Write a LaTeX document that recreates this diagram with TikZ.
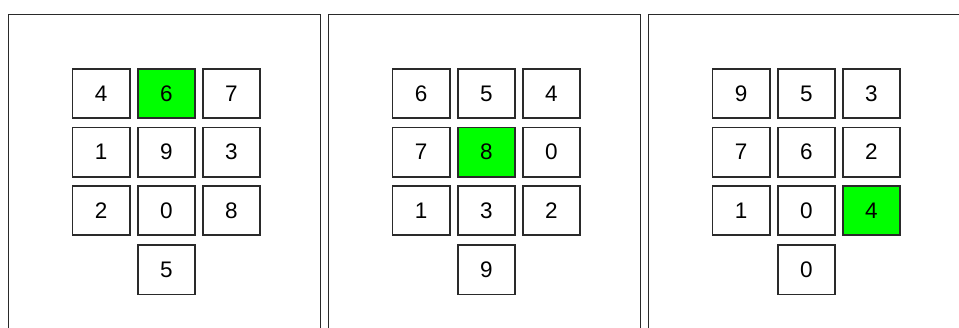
\documentclass[tikz,border=0pt]{standalone}
\usepackage{fontspec}
\setmainfont{Liberation Sans}
\definecolor{lime}{HTML}{00FF00}
\definecolor{edgeclr}{HTML}{2A2A2A}
\tikzset{
  cellbox/.style={draw=edgeclr, line width=1.6pt, fill=white, minimum width=57.4pt, minimum height=49.4pt, inner sep=0pt, font=\fontsize{22.5pt}{24pt}\selectfont, text=black},
  hot/.style={cellbox, fill=lime},
  panelframe/.style={draw=edgeclr, line width=1.8pt}
}
\begin{document}
\begin{tikzpicture}[x={(1pt,0pt)}, y={(0pt,-1pt)}]
\useasboundingbox (0,0) rectangle (959,327);
\clip (0,0) rectangle (959,327);
\fill[white] (0,0) rectangle (959,327);
% panel frames (open at the bottom)
\foreach \k in {0,1,2} {
  \draw[panelframe] ({8.5+320*\k},340) -- ({8.5+320*\k},14.5) -- ({320.5+320*\k},14.5) -- ({320.5+320*\k},340);
}
% panel 1
\node[cellbox] (a11) at (101.2,93.5) {4};
\node[hot]     (a12) at (166.4,93.5) {6};
\node[cellbox] (a13) at (231.4,93.5) {7};
\node[cellbox] (a21) at (101.2,152) {1};
\node[cellbox] (a22) at (166.4,152) {9};
\node[cellbox] (a23) at (231.4,152) {3};
\node[cellbox] (a31) at (101.2,210.5) {2};
\node[cellbox] (a32) at (166.4,210.5) {0};
\node[cellbox] (a33) at (231.4,210.5) {8};
\node[cellbox] (a42) at (166.4,269.6) {5};
% panel 2
\node[cellbox] (b11) at (421.2,93.5) {6};
\node[cellbox] (b12) at (486.4,93.5) {5};
\node[cellbox] (b13) at (551.4,93.5) {4};
\node[cellbox] (b21) at (421.2,152) {7};
\node[hot]     (b22) at (486.4,152) {8};
\node[cellbox] (b23) at (551.4,152) {0};
\node[cellbox] (b31) at (421.2,210.5) {1};
\node[cellbox] (b32) at (486.4,210.5) {3};
\node[cellbox] (b33) at (551.4,210.5) {2};
\node[cellbox] (b42) at (486.4,269.6) {9};
% panel 3
\node[cellbox] (c11) at (741.2,93.5) {9};
\node[cellbox] (c12) at (806.4,93.5) {5};
\node[cellbox] (c13) at (871.4,93.5) {3};
\node[cellbox] (c21) at (741.2,152) {7};
\node[cellbox] (c22) at (806.4,152) {6};
\node[cellbox] (c23) at (871.4,152) {2};
\node[cellbox] (c31) at (741.2,210.5) {1};
\node[cellbox] (c32) at (806.4,210.5) {0};
\node[hot]     (c33) at (871.4,210.5) {4};
\node[cellbox] (c42) at (806.4,269.6) {0};
\end{tikzpicture}
\end{document}
